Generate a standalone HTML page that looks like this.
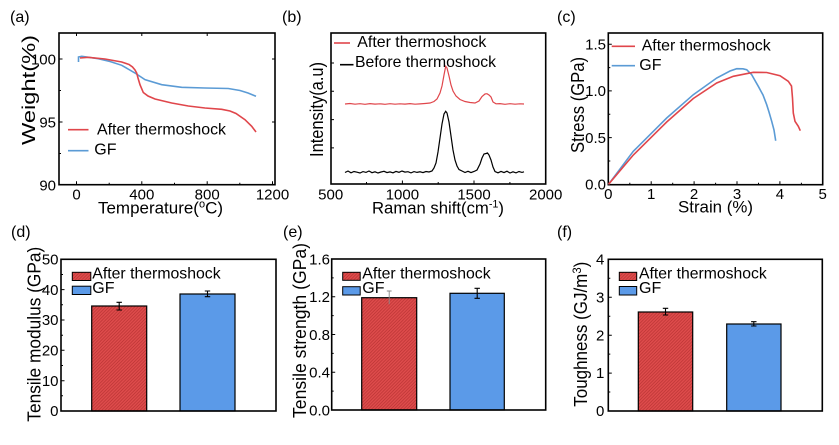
<!DOCTYPE html>
<html><head><meta charset="utf-8"><style>
html,body{margin:0;padding:0;background:#fff;}
svg{display:block;}
text{font-family:"Liberation Sans",Arial,sans-serif;fill:#000;}
</style></head><body>
<svg width="839" height="445" viewBox="0 0 839 445" xmlns="http://www.w3.org/2000/svg">
<defs>
<pattern id="hatch" patternUnits="userSpaceOnUse" width="3.2" height="3.2">
<rect width="3.2" height="3.2" fill="#de4c4c"/>
<path d="M-0.8,0.8 L0.8,-0.8 M0,3.2 L3.2,0 M2.4,4 L4,2.4" stroke="#b53030" stroke-width="0.6"/>
</pattern>
</defs>

<!-- panel labels -->
<g font-size="16">
<text x="10" y="22">(a)</text>
<text x="282" y="22">(b)</text>
<text x="557" y="22">(c)</text>
<text x="11" y="237">(d)</text>
<text x="283" y="237">(e)</text>
<text x="557" y="237">(f)</text>
</g>

<!-- ============ (a) ============ -->
<g>
<g stroke="#000" stroke-width="1">
<path d="M76.5,184.7v-3.5M141.8,184.7v-3.5M207.2,184.7v-3.5M272.5,184.7v-3.5"/>
<path d="M109.2,184.7v-2M174.5,184.7v-2M239.8,184.7v-2"/>
<path d="M59,59h3.5M59,122h3.5M59,153.5h2M59,90.5h2"/>
<path d="M76.5,33v3M141.8,33v3M207.2,33v3M275,59h-3M275,122h-3"/>
</g>
<rect x="59" y="33" width="216" height="151.7" fill="none" stroke="#000" stroke-width="1.6"/>
<polyline fill="none" stroke="#5b9bd5" stroke-width="1.6" points="78.5,62 78.5,57 81.7,56.3 98.3,58.7 110,61.5 121.7,65.3 135,73 145,79.7 161.7,84.7 181.7,87.3 205,88 228.3,88.5 240,90.5 248,93 256,96.3"/>
<polyline fill="none" stroke="#e0464b" stroke-width="1.6" points="80,58 88,57.3 105,59 121.7,62 129,64.5 132.5,67 135,70 136.7,73 138,78 140,84.7 143.3,92.5 148,96 155,99 171.7,103 188.3,106 205,108 221.7,109.3 230,111 236,113.5 245,119.7 251.7,126.3 256,132"/>
<line x1="68" y1="129.7" x2="88.5" y2="129.7" stroke="#e0464b" stroke-width="1.6"/>
<line x1="68" y1="150.7" x2="88.5" y2="150.7" stroke="#5b9bd5" stroke-width="1.6"/>
<text x="97" y="134.3" font-size="16" textLength="129" lengthAdjust="spacingAndGlyphs">After thermoshock</text>
<text x="94.3" y="154.5" font-size="16">GF</text>
<g font-size="15" text-anchor="end">
<text x="56" y="64.5">100</text>
<text x="56" y="127.5">95</text>
<text x="56" y="190.5">90</text>
</g>
<g font-size="15" text-anchor="middle">
<text x="76.5" y="199.5">0</text>
<text x="141.8" y="199.5">400</text>
<text x="207.2" y="199.5">800</text>
<text x="272.5" y="199.5">1200</text>
</g>
<text x="160.5" y="213.3" font-size="17" text-anchor="middle" textLength="125" lengthAdjust="spacingAndGlyphs">Temperature(<tspan font-size="11" dy="-6">o</tspan><tspan dy="6">C)</tspan></text>
<text transform="translate(35,90) rotate(-90)" font-size="18" text-anchor="middle" textLength="110" lengthAdjust="spacingAndGlyphs">Weight(%)</text>
</g>

<!-- ============ (b) ============ -->
<g>
<g stroke="#000" stroke-width="1">
<path d="M402.4,184v-3.5M474,184v-3.5"/>
<path d="M366.5,184v-2M438.2,184v-2M509.9,184v-2"/>
<path d="M331,63h3M331,91.3h3M331,119.6h3M331,147.9h3"/>
</g>
<rect x="331" y="33" width="214.7" height="151" fill="none" stroke="#000" stroke-width="1.6"/>
<polyline fill="none" stroke="#e0464b" stroke-width="1.2" points="345,104 350,103.5 355,104.2 360,103.7 365,104.3 370,103.6 375,104.1 380,103.8 385,104.3 390,103.7 395,104.2 400,103.8 405,104.1 410,103.6 415,104.2 420,103.9 425,103.5 430,103 434,101.5 437,99 440,93 442,86 444,75 445.7,66.3 447,68 449,76 451,85 453,91 456,96 460,99.5 465,101.5 470,102.5 475,103 479,101 482,96.5 485,94 487,93.7 489,95 491,97 493,102 496,103.8 500,103.6 505,104.3 510,103.7 515,104.2 520,103.8 524,104"/>
<polyline fill="none" stroke="#000" stroke-width="1.2" points="345,172.5 348,171 351,172.8 354,171.5 357,172.2 360,173 363,171.6 366,172.4 369,171 372,172.7 375,171.8 378,173 381,172 384,171.3 387,172.6 390,171.9 393,172.8 396,171.4 399,172.3 402,171 405,172.1 408,171.7 411,172.9 414,171.6 417,172.4 420,171.8 423,172.6 426,171.5 429,172 432,171 434,168 436,163 438,152 440,138 442,124 444,114 445.7,111.3 447,113 449,122 451,136 453,150 455,160 457,166 459,169.5 462,171 465,172.5 468,171.3 471,172.6 474,171.5 477,170 480,164 482,158 484,154 486,153.5 487.5,153 489,155 491,160 493,167 495,171.5 498,172.8 501,171.4 504,172.6 507,171.2 510,173 513,171.8 516,172.9 519,171.5 522,172.4 524,171.8"/>
<line x1="334" y1="43" x2="350" y2="43" stroke="#e0464b" stroke-width="1.6"/>
<line x1="340" y1="64.7" x2="353.5" y2="64.7" stroke="#000" stroke-width="1.6"/>
<text x="357.3" y="46.8" font-size="16" textLength="129" lengthAdjust="spacingAndGlyphs">After thermoshock</text>
<text x="355" y="66.8" font-size="16" textLength="141" lengthAdjust="spacingAndGlyphs">Before thermoshock</text>
<g font-size="15" text-anchor="middle">
<text x="330.7" y="199.5">500</text>
<text x="402.4" y="199.5">1000</text>
<text x="474" y="199.5">1500</text>
<text x="545.7" y="199.5">2000</text>
</g>
<text x="438" y="213.3" font-size="17" text-anchor="middle" textLength="132" lengthAdjust="spacingAndGlyphs">Raman shift(cm<tspan font-size="11" dy="-6">-1</tspan><tspan dy="6">)</tspan></text>
<text transform="translate(323,109.5) rotate(-90)" font-size="18" text-anchor="middle" textLength="95" lengthAdjust="spacingAndGlyphs">Intensity(a.u)</text>
</g>

<!-- ============ (c) ============ -->
<g>
<g stroke="#000" stroke-width="1">
<path d="M651.2,184.7v-3.5M694.1,184.7v-3.5M737,184.7v-3.5M779.9,184.7v-3.5"/>
<path d="M629.8,184.7v-2M672.7,184.7v-2M715.6,184.7v-2M758.5,184.7v-2M801.4,184.7v-2"/>
<path d="M608.3,137.6h3.5M608.3,90.9h3.5M608.3,44.2h3.5M608.3,161h2M608.3,114.3h2M608.3,67.6h2"/>
</g>
<rect x="608.3" y="33" width="214.4" height="151.7" fill="none" stroke="#000" stroke-width="1.6"/>
<polyline fill="none" stroke="#5b9bd5" stroke-width="1.6" points="608.5,184.3 633.3,151.3 666.7,118 693.3,94.7 716.7,78 730,71 736.7,68.7 743,68.8 746.7,69.7 751.7,74.7 758.3,86.3 763,95 766.7,104.7 769,112 771.7,121.3 774,130 775.7,140.7"/>
<polyline fill="none" stroke="#e0464b" stroke-width="1.6" points="608.5,184.3 633.3,155 666.7,122 693.3,98.5 716.7,83 733.3,76.3 753.3,72.3 766.7,72.5 780,75.7 788.3,81.3 791.5,86 792.5,98 793.3,113 795,121.3 798.3,126.3 800.3,130.7"/>
<line x1="611.7" y1="46.3" x2="635" y2="46.3" stroke="#e0464b" stroke-width="1.6"/>
<line x1="611.7" y1="65.7" x2="635" y2="65.7" stroke="#5b9bd5" stroke-width="1.6"/>
<text x="641.7" y="50.3" font-size="16" textLength="129" lengthAdjust="spacingAndGlyphs">After thermoshock</text>
<text x="639.3" y="70" font-size="16">GF</text>
<g font-size="15" text-anchor="end">
<text x="606" y="49.5">1.5</text>
<text x="606" y="96.2">1.0</text>
<text x="606" y="142.9">0.5</text>
<text x="606" y="189.3">0.0</text>
</g>
<g font-size="15" text-anchor="middle">
<text x="608.3" y="199">0</text>
<text x="651.2" y="199">1</text>
<text x="694.1" y="199">2</text>
<text x="737" y="199">3</text>
<text x="779.9" y="199">4</text>
<text x="822.7" y="199">5</text>
</g>
<text x="715.5" y="212.5" font-size="17" text-anchor="middle" textLength="75" lengthAdjust="spacingAndGlyphs">Strain (%)</text>
<text transform="translate(584,105) rotate(-90)" font-size="18" text-anchor="middle" textLength="96" lengthAdjust="spacingAndGlyphs">Stress (GPa)</text>
</g>

<!-- ============ (d) ============ -->
<g>
<g stroke="#000" stroke-width="1">
<path d="M61,289.6h3.5M61,320h3.5M61,350.3h3.5M61,380.7h3.5"/>
<path d="M61,274.5h2M61,304.8h2M61,335.2h2M61,365.5h2M61,395.8h2"/>
</g>
<rect x="91.7" y="306" width="55" height="105" fill="url(#hatch)" stroke="#000" stroke-width="1.2"/>
<rect x="180" y="294" width="55" height="117" fill="#5b9ae8" stroke="#000" stroke-width="1.2"/>
<g stroke="#000" stroke-width="1.1">
<path d="M119.2,302.3v7.7M116.5,302.3h5.4M116.5,310h5.4"/>
<path d="M207.5,291v5.7M204.8,291h5.4M204.8,296.7h5.4"/>
</g>
<rect x="61" y="259.3" width="215" height="151.7" fill="none" stroke="#000" stroke-width="1.6"/>
<rect x="72.3" y="272.3" width="18.5" height="8.2" fill="url(#hatch)" stroke="#000" stroke-width="1"/>
<rect x="72.3" y="286.2" width="18.5" height="8.3" fill="#5b9ae8" stroke="#000" stroke-width="1"/>
<text x="92.3" y="278.6" font-size="16" textLength="128.3" lengthAdjust="spacingAndGlyphs">After thermoshock</text>
<text x="92.3" y="293" font-size="16">GF</text>
<g font-size="15" text-anchor="end">
<text x="58.5" y="264.5">50</text>
<text x="58.5" y="294.8">40</text>
<text x="58.5" y="325.2">30</text>
<text x="58.5" y="355.5">20</text>
<text x="58.5" y="385.9">10</text>
<text x="58.5" y="416.2">0</text>
</g>
<text transform="translate(40.5,334.2) rotate(-90)" font-size="18" text-anchor="middle" textLength="175" lengthAdjust="spacingAndGlyphs">Tensile modulus (GPa)</text>
</g>

<!-- ============ (e) ============ -->
<g>
<g stroke="#000" stroke-width="1">
<path d="M331.7,296.8h3.5M331.7,334.5h3.5M331.7,372.3h3.5"/>
<path d="M331.7,277.9h2M331.7,315.6h2M331.7,353.4h2M331.7,391.1h2"/>
</g>
<rect x="361.7" y="297.7" width="55" height="112.3" fill="url(#hatch)" stroke="#000" stroke-width="1.2"/>
<rect x="450" y="293.3" width="54.3" height="116.7" fill="#5b9ae8" stroke="#000" stroke-width="1.2"/>
<path d="M389.2,291v13.3M386.8,291h4.8" stroke="#888" stroke-width="0.9"/>
<g stroke="#000" stroke-width="1.1">
<path d="M477.2,288.3v10M474.5,288.3h5.4M474.5,298.3h5.4"/>
</g>
<rect x="331.7" y="259" width="214" height="151" fill="none" stroke="#000" stroke-width="1.6"/>
<rect x="342.7" y="272.3" width="17.5" height="8" fill="url(#hatch)" stroke="#000" stroke-width="1"/>
<rect x="342.7" y="286.7" width="17.5" height="8.3" fill="#5b9ae8" stroke="#000" stroke-width="1"/>
<text x="362.3" y="278.6" font-size="16" textLength="128.3" lengthAdjust="spacingAndGlyphs">After thermoshock</text>
<text x="362.3" y="293" font-size="16">GF</text>
<g font-size="15" text-anchor="end">
<text x="330" y="264.3">1.6</text>
<text x="330" y="302">1.2</text>
<text x="330" y="339.8">0.8</text>
<text x="330" y="377.5">0.4</text>
<text x="330" y="415.3">0.0</text>
</g>
<text transform="translate(306,330.5) rotate(-90)" font-size="18" text-anchor="middle" textLength="175" lengthAdjust="spacingAndGlyphs">Tensile strength (GPa)</text>
</g>

<!-- ============ (f) ============ -->
<g>
<g stroke="#000" stroke-width="1">
<path d="M608.3,297.2h3.5M608.3,335.2h3.5M608.3,373.1h3.5"/>
<path d="M608.3,278.3h2M608.3,316.2h2M608.3,354.1h2M608.3,392h2"/>
</g>
<rect x="638.3" y="312" width="54.4" height="99" fill="url(#hatch)" stroke="#000" stroke-width="1.2"/>
<rect x="726.7" y="324" width="54.3" height="87" fill="#5b9ae8" stroke="#000" stroke-width="1.2"/>
<g stroke="#000" stroke-width="1.1">
<path d="M665.5,308.3v6.7M662.8,308.3h5.4M662.8,315h5.4"/>
<path d="M753.8,321.7v4.3M751.1,321.7h5.4M751.1,326h5.4"/>
</g>
<rect x="608.3" y="259.3" width="214" height="151.7" fill="none" stroke="#000" stroke-width="1.6"/>
<rect x="619.3" y="272.3" width="17.4" height="8.2" fill="url(#hatch)" stroke="#000" stroke-width="1"/>
<rect x="619.3" y="286.5" width="17.4" height="8.5" fill="#5b9ae8" stroke="#000" stroke-width="1"/>
<text x="639" y="278.6" font-size="16" textLength="127.7" lengthAdjust="spacingAndGlyphs">After thermoshock</text>
<text x="639" y="293" font-size="16">GF</text>
<g font-size="15" text-anchor="end">
<text x="604.3" y="264.5">4</text>
<text x="604.3" y="302.4">3</text>
<text x="604.3" y="340.3">2</text>
<text x="604.3" y="378.2">1</text>
<text x="604.3" y="416.2">0</text>
</g>
<text transform="translate(587,334.2) rotate(-90)" font-size="18" text-anchor="middle" textLength="145" lengthAdjust="spacingAndGlyphs">Toughness (GJ/m<tspan font-size="12" dy="-6">3</tspan><tspan dy="6">)</tspan></text>
</g>
</svg>
</body></html>
